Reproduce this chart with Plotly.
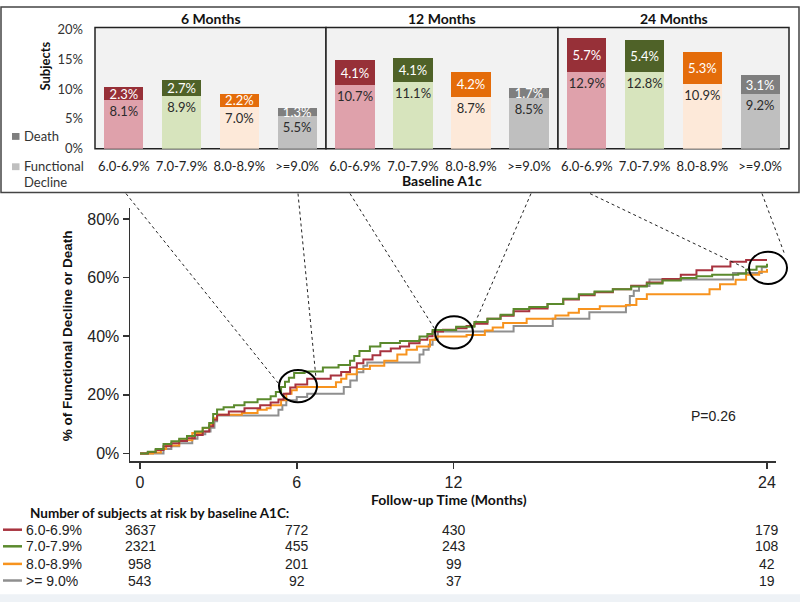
import plotly.graph_objects as go

# ---------------- data ----------------
categories = ["6.0-6.9%", "7.0-7.9%", "8.0-8.9%", ">=9.0%"]
panel_titles = ["6 Months", "12 Months", "24 Months"]
fd_6 = [8.1, 8.9, 7.0, 5.5]
death_6 = [2.3, 2.7, 2.2, 1.3]
fd_12 = [10.7, 11.1, 8.7, 8.5]
death_12 = [4.1, 4.1, 4.2, 1.7]
fd_24 = [12.9, 12.8, 10.9, 9.2]
death_24 = [5.7, 5.4, 5.3, 3.1]
bar_ticks = [0, 5, 10, 15, 20]

red_t = [0, 0.3, 0.6, 0.9, 1.2, 1.5, 1.8, 2.1, 2.4, 2.65, 2.8, 2.95, 3.4, 4.0, 4.6, 5.0, 5.3, 5.5, 5.75, 5.95,
         6.4, 7.3, 7.7, 8.04, 8.3, 8.55, 8.9, 9.2, 9.6, 9.95, 10.3, 10.7, 11.0, 11.2, 11.6, 12.1, 12.5, 12.8,
         13.3, 13.8, 14.3, 14.9, 15.6, 16.2, 16.8, 17.4, 18.1, 18.8, 19.4, 20.0, 20.7, 21.3, 21.9, 22.6, 23.2, 24.0]
red_y = [0, 0.5, 1.2, 2.5, 3.5, 4.3, 5.2, 6.3, 7.5, 9.3, 11.5, 13.2, 14.3, 15.4, 16.5, 17.4, 18.4, 20.4, 22.5, 23.5,
         25.5, 26.6, 27.8, 29.3, 30.8, 32.1, 33.5, 34.9, 35.8, 36.5, 37.6, 38.8, 40.0, 41.6, 42.2, 42.7, 43.5, 44.3,
         46.0, 47.0, 48.5, 49.5, 51.0, 52.5, 54.0, 55.0, 56.0, 57.2, 58.3, 59.5, 61.0, 62.5, 63.8, 65.4, 66.0, 66.0]

green_t = [0, 0.3, 0.6, 0.9, 1.2, 1.5, 1.8, 2.1, 2.4, 2.65, 2.8, 2.95, 3.2, 3.6, 4.0, 4.5, 5.0, 5.2, 5.4, 5.55,
           5.7, 5.9, 6.3, 7.0, 7.6, 8.04, 8.2, 8.4, 8.8, 9.2, 9.95, 10.7, 11.0, 11.2, 12.1, 12.8, 13.3, 13.8,
           14.3, 14.9, 15.6, 16.2, 16.8, 17.4, 18.1, 18.8, 19.4, 20.0, 20.7, 21.3, 21.9, 22.9, 23.2, 23.6, 24.0]
green_y = [0, 0.6, 1.5, 3.2, 4.2, 5.0, 6.0, 7.5, 8.8, 10.4, 13.5, 15.0, 15.8, 16.5, 17.5, 18.5, 19.5, 21.0, 22.7, 24.5,
           25.8, 27.5, 28.0, 29.3, 30.2, 31.6, 33.3, 35.0, 36.5, 37.7, 38.4, 39.9, 40.8, 42.1, 43.2, 44.9, 46.0, 47.3,
           49.3, 50.0, 51.0, 52.8, 54.3, 55.3, 56.0, 57.0, 58.0, 59.0, 59.9, 60.5, 61.0, 61.3, 62.7, 63.8, 64.7]

orange_t = [0, 0.5, 0.8, 1.0, 1.5, 2.0, 2.4, 2.65, 2.8, 2.95, 3.9, 4.5, 4.85, 5.0, 5.4, 5.6, 5.8, 6.0, 7.5, 7.7,
            7.9, 8.3, 8.8, 9.35, 9.85, 10.2, 10.6, 11.1, 11.3, 12.5, 13.2, 13.5, 13.9, 14.8, 15.9, 16.4, 16.8,
            17.6, 18.6, 19.0, 19.4, 21.8, 22.2, 22.8, 23.2, 23.7, 24.0]
orange_y = [0, 0.3, 1.5, 2.7, 4.5, 7.0, 8.7, 9.9, 12.0, 13.2, 13.8, 14.9, 15.4, 16.5, 18.2, 20.4, 21.6, 22.7, 24.3, 25.5,
            27.0, 28.8, 29.9, 31.6, 33.8, 35.4, 36.5, 38.8, 39.9, 40.4, 42.0, 43.0, 44.5, 46.0, 47.1, 48.0, 49.3,
            50.2, 50.7, 52.7, 54.3, 56.0, 57.7, 59.3, 61.0, 62.0, 62.9]

gray_t = [0, 0.9, 1.2, 1.5, 2.0, 2.2, 2.5, 2.7, 2.85, 2.95, 5.3, 5.45, 5.6, 6.0, 6.4, 7.8, 8.05, 8.3, 8.55, 8.7,
          10.7, 10.85, 11.05, 11.2, 11.4, 14.3, 15.8, 17.2, 18.6, 18.75, 18.9, 19.1, 19.5, 22.7, 23.8, 24.0]
gray_y = [0, 1.5, 2.5, 3.5, 5.0, 6.6, 7.5, 8.8, 11.0, 13.0, 14.9, 16.5, 18.2, 19.3, 20.4, 22.7, 24.9, 27.7, 29.9, 31.0,
          33.8, 35.4, 37.1, 38.8, 41.6, 43.5, 46.0, 48.2, 50.5, 53.7, 55.5, 57.1, 59.4, 61.6, 63.5, 63.5]

km_ticks_x = [0, 6, 12, 24]
km_ticks_y = [0, 20, 40, 60, 80]

risk_times = [0, 6, 12, 24]
risk_labels = ["6.0-6.9%", "7.0-7.9%", "8.0-8.9%", ">= 9.0%"]
risk_counts = [
    [3637, 772, 430, 179],
    [2321, 455, 243, 108],
    [958, 201, 99, 42],
    [543, 92, 37, 19],
]
p_value_text = "P=0.26"

# ---------------- styles ----------------
W, H = 800, 610
def PX(x): return x / W
def PY(y): return 1 - y / H

line_colors = ["#a8333f", "#5b8a2d", "#f7931e", "#8f8f8f"]
death_colors = ["#973038", "#4f6228", "#e46c0a", "#7f7f7f"]
fd_colors = ["#dfa1ab", "#d7e4bd", "#fde9d9", "#bfbfbf"]
INSET_FONT = "Lato, Open Sans, sans-serif"
MAIN_FONT = "Liberation Sans, Arial, sans-serif"

fig = go.Figure()

# ---------------- KM curves ----------------
for t, y, c in [(gray_t, gray_y, line_colors[3]), (orange_t, orange_y, line_colors[2]),
                (red_t, red_y, line_colors[0]), (green_t, green_y, line_colors[1])]:
    fig.add_trace(go.Scatter(x=t, y=y, mode="lines", line=dict(color=c, width=2, shape="hv"),
                             xaxis="x", yaxis="y", hoverinfo="skip"))

# ---------------- inset bars ----------------
panels = [(fd_6, death_6), (fd_12, death_12), (fd_24, death_24)]
panel_px = [(95, 326), (326, 558), (558, 789)]
for i, (fd, dth) in enumerate(panels):
    xa = "x%d" % (i + 2)
    ya = "y%d" % (i + 2)
    fig.add_trace(go.Bar(x=categories, y=fd, marker=dict(color=fd_colors, line=dict(width=0)),
                         text=["%.1f%%" % v for v in fd], textposition="inside", insidetextanchor="end",
                         constraintext="none", textangle=0,
                         textfont=dict(color="#2b2b2b", size=13, family=INSET_FONT),
                         xaxis=xa, yaxis=ya, hoverinfo="skip"))
    fig.add_trace(go.Bar(x=categories, y=dth, marker=dict(color=death_colors, line=dict(width=0)),
                         text=["%.1f%%" % v for v in dth], textposition="inside", insidetextanchor="middle",
                         constraintext="none", textangle=0,
                         textfont=dict(color="white", size=13, family=INSET_FONT),
                         xaxis=xa, yaxis=ya, hoverinfo="skip"))

layout_axes = {}
ytop_px, ybot_px = 22, 146
bar_scale = (ybot_px - 24) / 20.0
bar_ymax = (ybot_px - ytop_px) / bar_scale
for i, (x0, x1) in enumerate(panel_px):
    n = i + 2
    layout_axes["xaxis%d" % n] = dict(domain=[PX(x0), PX(x1)], anchor="y%d" % n, type="category",
                                      range=[-0.5, 3.5], showline=False, ticks="", showgrid=False,
                                      tickfont=dict(family=INSET_FONT, size=13, color="#222"),
                                      ticklabelstandoff=8, fixedrange=True)
    layout_axes["yaxis%d" % n] = dict(domain=[PY(ybot_px), PY(ytop_px)], anchor="x%d" % n,
                                      range=[0, bar_ymax], showgrid=False, zeroline=False,
                                      showticklabels=(i == 0), tickvals=bar_ticks,
                                      ticktext=["%d%%" % v for v in bar_ticks], ticks="",
                                      ticklabelstandoff=11,
                                      tickfont=dict(family=INSET_FONT, size=13, color="#333"),
                                      fixedrange=True)

# main KM axes
px_per_month = (767 - 140) / 24.0
x_lo = (130 - 140) / px_per_month
x_hi = 24 + (776 - 767) / px_per_month
y_lo = (458 - 466) / 3.0
y_hi = (458 - 207) / 3.0
layout_axes["xaxis"] = dict(domain=[PX(130), PX(776)], anchor="y", range=[x_lo, x_hi],
                            tickvals=km_ticks_x, showline=True, linecolor="#333", linewidth=1.5,
                            ticks="outside", ticklen=6, tickwidth=1.5, tickcolor="#333", showgrid=False,
                            zeroline=False, tickfont=dict(family=MAIN_FONT, size=16, color="#222"),
                            fixedrange=True)
layout_axes["yaxis"] = dict(domain=[PY(466), PY(207)], anchor="x", range=[y_lo, y_hi],
                            tickvals=km_ticks_y, ticktext=["%d%%" % v for v in km_ticks_y],
                            showline=True, linecolor="#333", linewidth=1.5,
                            ticks="outside", ticklen=6, tickwidth=1.5, tickcolor="#333", showgrid=False,
                            zeroline=False, tickfont=dict(family=MAIN_FONT, size=16, color="#222"),
                            fixedrange=True)

shapes = []
for (x0, x1) in panel_px:
    shapes.append(dict(type="rect", xref="paper", yref="paper", x0=PX(x0), x1=PX(x1),
                       y0=PY(ybot_px), y1=PY(ytop_px), fillcolor="#f2f2f2",
                       line=dict(color="#222", width=1.5), layer="below"))
shapes.append(dict(type="rect", xref="paper", yref="paper", x0=PX(1), x1=PX(799), y0=PY(191), y1=PY(1),
                   line=dict(color="#444", width=1.5), fillcolor="rgba(0,0,0,0)"))
shapes.append(dict(type="rect", xref="paper", yref="paper", x0=0, x1=1, y0=0, y1=PY(602),
                   line=dict(width=0), fillcolor="#eef2f6", layer="below"))
shapes.append(dict(type="rect", xref="paper", yref="paper", x0=PX(12), x1=PX(19.5), y0=PY(137), y1=PY(130),
                   fillcolor="#7f7f7f", line=dict(width=0)))
shapes.append(dict(type="rect", xref="paper", yref="paper", x0=PX(12), x1=PX(19.5), y0=PY(168), y1=PY(161),
                   fillcolor="#bfbfbf", line=dict(width=0)))
for cx, cy in [(298, 389), (454, 334), (768, 268)]:
    shapes.append(dict(type="circle", xref="paper", yref="paper", x0=PX(cx - 19), x1=PX(cx + 19),
                       y0=PY(cy + 16.5), y1=PY(cy - 16.5), line=dict(color="black", width=2)))
for (xa, ya, xb, yb) in [(126, 192, 279, 387), (298, 192, 316, 381), (350, 192, 435, 331),
                         (531, 192, 476, 322), (590, 192, 751, 271), (762, 192, 785, 255)]:
    shapes.append(dict(type="line", xref="paper", yref="paper", x0=PX(xa), y0=PY(ya), x1=PX(xb), y1=PY(yb),
                       line=dict(color="#222", width=1, dash="dot")))
row_y = [536, 553, 571, 588]
for c, ry in zip(line_colors, row_y):
    shapes.append(dict(type="line", xref="paper", yref="paper", x0=PX(3), x1=PX(22), y0=PY(ry), y1=PY(ry),
                       line=dict(color=c, width=2.5)))

ann = []
def A(text, x, y, size, family, bold=False, color="#1a1a1a", xanchor="center", angle=0, xref="paper"):
    ann.append(dict(text=("<b>%s</b>" % text) if bold else text, x=x if xref != "paper" else PX(x),
                    y=PY(y), xref=xref, yref="paper", showarrow=False, xanchor=xanchor, yanchor="middle",
                    textangle=angle, font=dict(size=size, family=family, color=color)))

for title, (x0, x1) in zip(panel_titles, panel_px):
    A(title, (x0 + x1) / 2, 13, 14, INSET_FONT, bold=True, color="#111")
A("Baseline A1c", 442, 179, 14, INSET_FONT, bold=True, color="#111")
A("Subjects", 45, 62, 13, INSET_FONT, bold=True, color="#111", angle=-90)
A("Death", 22, 133, 13, INSET_FONT, color="#333", xanchor="left")
A("Functional", 22, 164, 13, INSET_FONT, color="#333", xanchor="left")
A("Decline", 22, 180, 13, INSET_FONT, color="#333", xanchor="left")

A("% of Functional Decline or Death", 67, 338, 13.5, MAIN_FONT, bold=True, color="#111", angle=-90)
A("Follow-up Time (Months)", 449, 505, 14, INSET_FONT, bold=True, color="#111")
A(p_value_text, 713, 420, 14, MAIN_FONT, color="#222")
A("Number of subjects at risk by baseline A1C:", 28, 519, 13.5, INSET_FONT, bold=True, color="#111",
  xanchor="left")
for lab, counts, ry in zip(risk_labels, risk_counts, row_y):
    A(lab, 24, ry, 14, MAIN_FONT, color="#222", xanchor="left")
    for t, c in zip(risk_times, counts):
        A(str(c), t, ry, 14, MAIN_FONT, color="#222", xref="x")

fig.update_layout(width=W, height=H, margin=dict(l=0, r=0, t=0, b=0), showlegend=False,
                  paper_bgcolor="white", plot_bgcolor="rgba(0,0,0,0)", barmode="stack", bargap=0.325,
                  shapes=shapes, annotations=ann, hovermode=False, **layout_axes)

fig.write_html("out.html", config={"displayModeBar": False, "staticPlot": True},
               post_script="document.body.style.margin='0';document.body.style.overflow='hidden';")
